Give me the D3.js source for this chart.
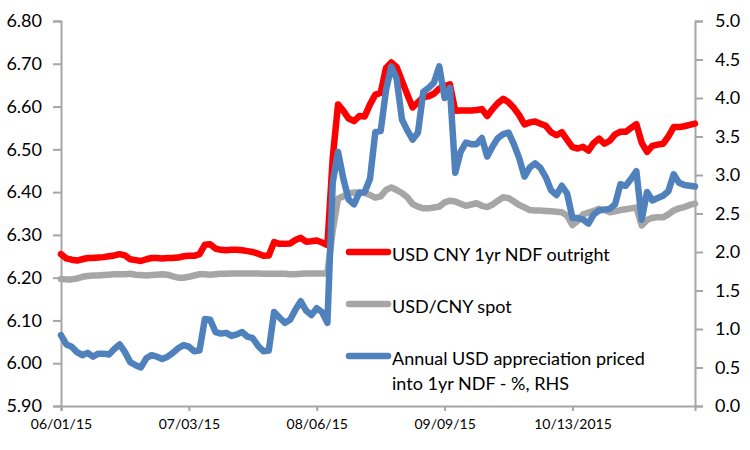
<!DOCTYPE html>
<html>
<head>
<meta charset="utf-8">
<script src="https://cdn.jsdelivr.net/npm/d3@7"></script>
<style>
  body { margin: 0; background: #fff; }
  text { font-family: Lato, "Open Sans", sans-serif; fill: #000; }
</style>
</head>
<body>
<div id="vis"></div>
<script>
// daily (business day) points from 06/01/15, category axis
var tickIndex = [0, 24, 48, 72, 96];
var tickLabels = ["06/01/15", "07/03/15", "08/06/15", "09/09/15", "10/13/2015"];

// USD CNY 1yr NDF outright (LHS)
var ndf = [
  6.255, 6.245, 6.242, 6.240, 6.243, 6.246, 6.246, 6.247, 6.248, 6.250,
  6.252, 6.255, 6.252, 6.243, 6.241, 6.239, 6.243, 6.246, 6.246, 6.245,
  6.246, 6.246, 6.247, 6.250, 6.251, 6.251, 6.255, 6.277, 6.278, 6.268,
  6.265, 6.264, 6.265, 6.265, 6.264, 6.262, 6.260, 6.256, 6.251, 6.252,
  6.283, 6.279, 6.279, 6.280, 6.288, 6.293, 6.284, 6.285, 6.287, 6.282,
  6.276, 6.480, 6.605, 6.590, 6.572, 6.566, 6.578, 6.577, 6.605, 6.628,
  6.632, 6.690, 6.703, 6.692, 6.660, 6.628, 6.598, 6.610, 6.622, 6.624,
  6.630, 6.642, 6.648, 6.652, 6.590, 6.591, 6.591, 6.591, 6.592, 6.594,
  6.578, 6.594, 6.608, 6.618, 6.610, 6.597, 6.580, 6.558, 6.563, 6.565,
  6.560, 6.555, 6.540, 6.533, 6.540, 6.522, 6.505, 6.502, 6.506, 6.497,
  6.515, 6.525, 6.513, 6.520, 6.535, 6.541, 6.541, 6.550, 6.559, 6.515,
  6.494, 6.508, 6.511, 6.513, 6.530, 6.552, 6.552, 6.554, 6.557, 6.560
];

// USD/CNY spot (LHS)
var spot = [
  6.197, 6.196, 6.196, 6.198, 6.202, 6.204, 6.205, 6.205, 6.206, 6.207,
  6.208, 6.208, 6.208, 6.209, 6.207, 6.206, 6.205, 6.206, 6.207, 6.208,
  6.207, 6.203, 6.200, 6.200, 6.202, 6.205, 6.208, 6.208, 6.207, 6.208,
  6.209, 6.209, 6.210, 6.210, 6.210, 6.210, 6.210, 6.210, 6.209, 6.209,
  6.209, 6.209, 6.209, 6.208, 6.208, 6.209, 6.210, 6.210, 6.210, 6.210,
  6.210, 6.310, 6.385, 6.390, 6.397, 6.399, 6.399, 6.398, 6.393, 6.387,
  6.390, 6.405, 6.411, 6.405, 6.398, 6.388, 6.372, 6.366, 6.362, 6.362,
  6.364, 6.366, 6.376, 6.380, 6.378, 6.373, 6.368, 6.371, 6.374, 6.368,
  6.365, 6.371, 6.380, 6.388, 6.386, 6.378, 6.370, 6.364, 6.358, 6.357,
  6.357, 6.356, 6.355, 6.354, 6.353, 6.345, 6.323, 6.333, 6.348, 6.352,
  6.356, 6.361, 6.358, 6.353, 6.355, 6.358, 6.360, 6.362, 6.364, 6.322,
  6.335, 6.340, 6.341, 6.341, 6.348, 6.357, 6.362, 6.365, 6.370, 6.373
];

// Annual USD appreciation priced into 1yr NDF, % (RHS)
var appr = [
  0.92, 0.80, 0.77, 0.70, 0.66, 0.69, 0.64, 0.68, 0.68, 0.67,
  0.74, 0.80, 0.70, 0.57, 0.53, 0.50, 0.62, 0.66, 0.64, 0.61,
  0.64, 0.69, 0.75, 0.79, 0.77, 0.71, 0.72, 1.13, 1.12, 0.96,
  0.94, 0.95, 0.91, 0.93, 0.96, 0.90, 0.88, 0.78, 0.71, 0.72,
  1.22, 1.15, 1.08, 1.12, 1.25, 1.36, 1.24, 1.18, 1.27, 1.22,
  1.08, 2.90, 3.30, 2.95, 2.68, 2.62, 2.77, 2.78, 2.95, 3.56,
  3.57, 4.10, 4.41, 4.25, 3.72, 3.58, 3.46, 3.55, 4.08, 4.13,
  4.20, 4.41, 4.00, 4.13, 3.03, 3.30, 3.42, 3.40, 3.40, 3.48,
  3.24, 3.37, 3.48, 3.53, 3.55, 3.40, 3.22, 2.98, 3.10, 3.15,
  3.09, 2.97, 2.80, 2.74, 2.86, 2.76, 2.44, 2.44, 2.42, 2.37,
  2.49, 2.54, 2.55, 2.56, 2.62, 2.88, 2.86, 2.95, 3.05, 2.42,
  2.78, 2.67, 2.70, 2.73, 2.79, 3.01, 2.90, 2.87, 2.86, 2.85
];

var leftTicks = [5.9, 6.0, 6.1, 6.2, 6.3, 6.4, 6.5, 6.6, 6.7, 6.8];
var rightTicks = [0, 0.5, 1, 1.5, 2, 2.5, 3, 3.5, 4, 4.5, 5];

var axisColor = "#a6a6a6";

var svg = d3.select("#vis").append("svg").attr("width", 750).attr("height", 450);

var x = d3.scaleLinear().domain([0, ndf.length - 1]).range([61, 695]);
var yL = d3.scaleLinear().domain([5.9, 6.8]).range([406, 21]);
var yR = d3.scaleLinear().domain([0, 5]).range([406, 21]);

// axes
var gLeft = svg.append("g").attr("transform", "translate(61,0)")
  .call(d3.axisLeft(yL).tickValues(leftTicks).tickFormat(d3.format(".2f")).tickSizeOuter(0).tickSize(8).tickPadding(11));
var gRight = svg.append("g").attr("transform", "translate(695,0)")
  .call(d3.axisRight(yR).tickValues(rightTicks).tickFormat(d3.format(".1f")).tickSizeOuter(0).tickSize(8).tickPadding(12));
var gBottom = svg.append("g").attr("transform", "translate(0,406)")
  .call(d3.axisBottom(x).tickValues(tickIndex).tickFormat(function(d, i) { return tickLabels[i]; })
    .tickSizeOuter(0).tickSize(5).tickPadding(8));

[gLeft, gRight, gBottom].forEach(function(g) {
  g.select(".domain").attr("stroke", axisColor).attr("stroke-width", 2);
  g.selectAll(".tick line").attr("stroke", axisColor).attr("stroke-width", 2);
});
gLeft.selectAll("text").style("font-size", "18px");
gRight.selectAll("text").style("font-size", "18px");
gBottom.selectAll("text").style("font-size", "14px");

// series
var lineL = d3.line().x(function(d, i) { return x(i); }).y(function(d) { return yL(d); });
var lineR = d3.line().x(function(d, i) { return x(i); }).y(function(d) { return yR(d); });

var series = [
  { name: "USD CNY 1yr NDF outright", data: ndf, line: lineL, color: "#ff0000" },
  { name: "USD/CNY spot", data: spot, line: lineL, color: "#a6a6a6" },
  { name: "Annual USD appreciation priced|into 1yr NDF - %, RHS", data: appr, line: lineR, color: "#4f81bd" }
];

svg.selectAll("path.series")
  .data(series)
  .enter().append("path")
  .attr("class", "series")
  .attr("d", function(s) { return s.line(s.data); })
  .attr("fill", "none")
  .attr("stroke", function(s) { return s.color; })
  .attr("stroke-width", 6.5)
  .attr("stroke-linejoin", "round")
  .attr("stroke-linecap", "round");

// legend
var legendY = [252, 304, 356];
var leg = svg.selectAll("g.legend")
  .data(series)
  .enter().append("g")
  .attr("class", "legend")
  .attr("transform", function(s, i) { return "translate(0," + legendY[i] + ")"; });

leg.append("line")
  .attr("x1", 349).attr("x2", 388)
  .attr("stroke", function(s) { return s.color; })
  .attr("stroke-width", 6.5)
  .attr("stroke-linecap", "round");

leg.each(function(s) {
  var t = d3.select(this).append("text").attr("x", 392).style("font-size", "18px");
  s.name.split("|").forEach(function(part, k) {
    t.append("tspan").attr("x", 392).attr("y", 9 + k * 25).text(part);
  });
});
</script>
</body>
</html>
